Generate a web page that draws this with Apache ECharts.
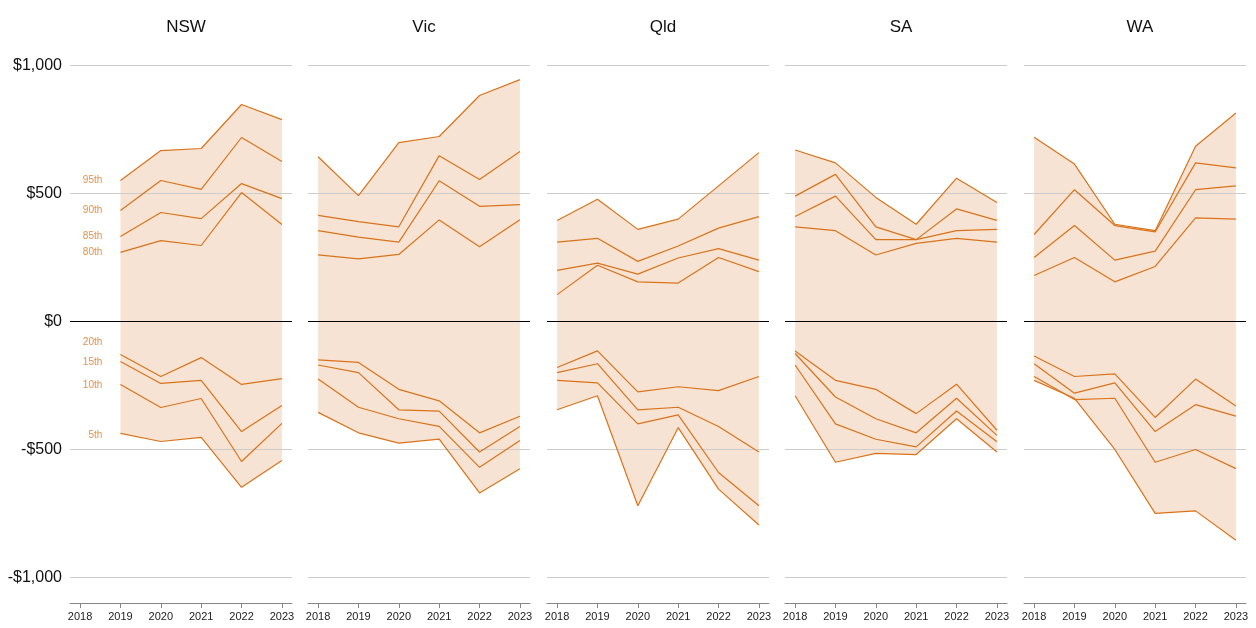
<!DOCTYPE html>
<html><head><meta charset="utf-8">
<script src="https://cdn.jsdelivr.net/npm/echarts@6/dist/echarts.min.js"></script>
<style>html,body{margin:0;padding:0;background:#fff}#c{width:1256px;height:628px}</style>
</head><body><div id="c"></div>
<script>
const years = [2018, 2019, 2020, 2021, 2022, 2023];
const states = ['NSW', 'Vic', 'Qld', 'SA', 'WA'];
const pctNames = ['95th', '90th', '85th', '80th', '20th', '15th', '10th', '5th'];
const NSW = [
  [null, 551, 668, 676, 848, 789],
  [null, 434, 551, 516, 719, 625],
  [null, 332, 426, 402, 539, 480],
  [null, 270, 316, 297, 504, 379],
  [null, -129, -215, -141, -246, -223],
  [null, -156, -242, -230, -430, -328],
  [null, -246, -336, -301, -547, -398],
  [null, -437, -469, -453, -648, -543]
];
const Vic = [
  [644, 492, 699, 723, 883, 945],
  [415, 390, 370, 648, 555, 664],
  [355, 330, 310, 550, 450, 457],
  [260, 245, 262, 397, 292, 398],
  [-150, -160, -265, -310, -435, -370],
  [-170, -200, -345, -350, -510, -410],
  [-225, -335, -380, -410, -570, -465],
  [-355, -435, -475, -460, -670, -575]
];
const Qld = [
  [395, 478, 360, 400, 530, 660],
  [310, 325, 235, 295, 365, 410],
  [200, 228, 185, 248, 285, 240],
  [105, 220, 155, 150, 250, 195],
  [-180, -115, -275, -255, -270, -215],
  [-200, -165, -345, -335, -410, -510],
  [-230, -240, -400, -365, -590, -720],
  [-345, -290, -720, -415, -655, -795]
];
const SA = [
  [670, 620, 485, 380, 560, 465],
  [490, 575, 370, 320, 440, 395],
  [410, 490, 320, 320, 355, 360],
  [370, 355, 260, 305, 325, 310],
  [-115, -230, -265, -360, -245, -425],
  [-125, -295, -380, -435, -300, -445],
  [-170, -400, -460, -490, -350, -470],
  [-290, -550, -515, -520, -380, -510]
];
const WA = [
  [720, 615, 380, 355, 685, 815],
  [340, 515, 375, 350, 620, 600],
  [250, 375, 240, 275, 515, 530],
  [180, 250, 155, 215, 405, 400],
  [-135, -215, -205, -375, -225, -330],
  [-165, -280, -240, -430, -325, -370],
  [-215, -305, -300, -550, -500, -575],
  [-230, -300, -500, -750, -740, -855]
];
const labelYs = [551, 434, 332, 270, -82, -160, -250, -445];
const allData = [NSW, Vic, Qld, SA, WA];
const yTicks = [-1000, -500, 0, 500, 1000];

const lefts = [70, 308, 547, 785, 1024];
const W = 222;
const orange = '#d9731a', fill = '#f7e3d4';
const grids = [], xAxes = [], yAxes = [], series = [], titles = [];
states.forEach((s, i) => {
  grids.push({left: lefts[i], top: 40, width: W, height: 563});
  titles.push({text: s, left: lefts[i] + W / 2, top: 14, textAlign: 'center',
    textStyle: {fontSize: 17, fontWeight: 'normal', color: '#111', fontFamily: 'Liberation Sans'}});
  xAxes.push({type: 'value', gridIndex: i, min: 2017.75, max: 2023.25,
    axisLine: {show: true, onZero: false, lineStyle: {color: '#888'}},
    axisTick: {show: true, customValues: years, length: 5, lineStyle: {color: '#888'}},
    axisLabel: {customValues: years, fontSize: 11, color: '#222', margin: 8, fontFamily: 'Liberation Sans',
      formatter: v => String(v)},
    splitLine: {show: false}});
  yAxes.push({type: 'value', gridIndex: i, min: -1100, max: 1100,
    axisLine: {show: false}, axisTick: {show: false}, splitLine: {show: false},
    axisLabel: {show: i === 0, customValues: yTicks, fontSize: 16, color: '#111', margin: 8,
      fontFamily: 'Liberation Sans',
      formatter: v => (v < 0 ? '-' : '') + '$' + Math.abs(v).toLocaleString('en-US')}});
  const d = allData[i];
  const top = d[0], bot = d[7];
  const topPts = years.map((y, k) => [y, top[k]]).filter(p => p[1] != null);
  const botPts = years.map((y, k) => [y, bot[k]]).filter(p => p[1] != null);
  const bandPts = topPts.concat(botPts.slice().reverse());
  series.push({type: 'custom', xAxisIndex: i, yAxisIndex: i, silent: true, z: 1,
    data: [[topPts[0][0], topPts[0][1]]],
    renderItem: (params, api) => ({type: 'polygon',
      shape: {points: bandPts.map(p => api.coord(p))},
      style: {fill: fill}}),
    markLine: {silent: true, symbol: 'none', label: {show: false}, z: 2,
      data: yTicks.map(v => ({yAxis: v, lineStyle: {color: v === 0 ? '#000' : '#ccc', width: 1, type: 'solid'}}))}});
  d.forEach((arr, j) => {
    series.push({type: 'line', xAxisIndex: i, yAxisIndex: i, symbol: 'none', z: 5,
      lineStyle: {color: orange, width: 1.2},
      data: years.map((y, k) => [y, arr[k]])});
  });
  if (i === 0) {
    series.push({type: 'scatter', xAxisIndex: 0, yAxisIndex: 0, symbolSize: 0, z: 6,
      data: labelYs.map((v, j) => ({value: [2018.55, v], name: pctNames[j]})),
      label: {show: true, position: 'left', distance: 0, formatter: p => p.name,
        color: orange, fontSize: 10, fontFamily: 'Liberation Sans'}});
  }
});
const chart = echarts.init(document.getElementById('c'), null, {renderer: 'canvas'});
chart.setOption({animation: false, title: titles, grid: grids, xAxis: xAxes, yAxis: yAxes, series});
</script></body></html>
